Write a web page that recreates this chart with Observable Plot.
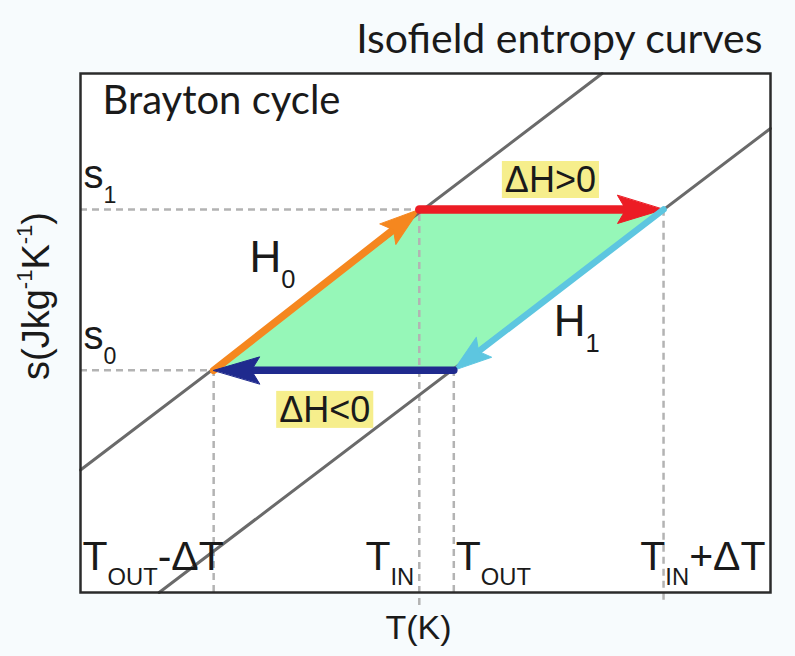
<!DOCTYPE html>
<html><head><meta charset="utf-8">
<script src="https://cdn.jsdelivr.net/npm/d3@7"></script>
<script src="https://cdn.jsdelivr.net/npm/@observablehq/plot@0.6"></script>
<style>
html,body{margin:0;padding:0;background:#f7fbfd;}
#chart{width:795px;height:656px;}
</style></head><body><div id="chart"></div>
<script>
// ---- data (arbitrary units) ----
// cycle corners in order: T_OUT-ΔT, T_IN, T_IN+ΔT, T_OUT
const cycleT = [19.3, 49.1, 84.5, 54.1];
const cycleS = [42.8, 73.8, 73.8, 42.8];
const stageColors = ["#f5871f", "#ec1c24", "#5dc6e0", "#1f2a8e"];
const stageWidths = [7.5, 8.5, 6.5, 7.5];
const headLengths = [40, 46, 38, 46];
const headWidths = [26, 28, 25, 27];
// isofield entropy curves (H0 upper, H1 lower)
const isoH0T = [0, 75.6], isoH0S = [23.6, 100];
const isoH1T = [11.4, 100], isoH1S = [0, 89.4];
// labels
const tickLabels = ["T_{OUT}-ΔT", "T_{IN}", "T_{OUT}", "T_{IN}+ΔT"];
const sLabels = ["s_{0}", "s_{1}"];
const sValues = [42.8, 73.8];
const fieldLabels = ["H_{0}", "H_{1}"];
const deltaLabels = ["ΔH>0", "ΔH<0"];
const dashBottom = [0, -2.5, -1.5, 0];

const W = 795, H = 656, mL = 80, mR = 25, mT = 73, mB = 64;
const xDom = [0, 100], yDom = [0, 100];
const kx = (W - mL - mR) / (xDom[1] - xDom[0]);
const ky = (H - mT - mB) / (yDom[1] - yDom[0]);

const arrows = cycleT.map((t, i) => {
  const j = (i + 1) % 4;
  const a = {x1: t, y1: cycleS[i], x2: cycleT[j], y2: cycleS[j],
    color: stageColors[i], w: stageWidths[i], head: headLengths[i], hw: headWidths[i]};
  const sx = (a.x2 - a.x1) * kx, sy = -(a.y2 - a.y1) * ky;
  a.angle = Math.atan2(sx, -sy) * 180 / Math.PI;
  a.mx = (a.x1 + a.x2) / 2; a.my = (a.y1 + a.y2) / 2;
  return a;
});

const area = [
  {s: cycleS[0], a: cycleT[0], b: cycleT[3]},
  {s: cycleS[1], a: cycleT[1], b: cycleT[2]}
];
const vDash = cycleT.map((t, i) => ({t, top: cycleS[i], bottom: dashBottom[i]}));
const hDash = [{s: cycleS[1], t: cycleT[1]}, {s: cycleS[0], t: cycleT[0]}];
const isoLines = [
  isoH0T.map((t, i) => ({t, s: isoH0S[i], k: "H0"})),
  isoH1T.map((t, i) => ({t, s: isoH1S[i], k: "H1"}))
].flat();

const ticks = [
  {label: tickLabels[0], t: xDom[0], anchor: "start", dx: 2},
  {label: tickLabels[1], t: cycleT[1], anchor: "end", dx: -5},
  {label: tickLabels[2], t: cycleT[3], anchor: "start", dx: 2},
  {label: tickLabels[3], t: xDom[1], anchor: "end", dx: -5}
];

const sans = "Liberation Sans, Arial, sans-serif";
const human = "Lato, sans-serif";

function headShape(hw) {
  return {draw(ctx, l) {
    ctx.moveTo(0, -l);
    ctx.lineTo(hw / 2, 0);
    ctx.lineTo(0, -l * 0.18);
    ctx.lineTo(-hw / 2, 0);
    ctx.closePath();
  }};
}

const marks = [
  Plot.frame({fill: "white", stroke: "none"}),
  Plot.areaX(area, {y: "s", x1: "a", x2: "b", fill: "#96f7b8", fillOpacity: 1}),
  Plot.ruleY(hDash, {y: "s", x1: xDom[0], x2: "t", stroke: "#b3b3b3", strokeWidth: 2.5, strokeDasharray: "7,5"}),
  Plot.ruleX(vDash, {x: "t", y1: "bottom", y2: "top", stroke: "#b3b3b3", strokeWidth: 2.5, strokeDasharray: "7,5"}),
  Plot.line(isoLines, {x: "t", y: "s", z: "k", stroke: "#6a6a6a", strokeWidth: 3}),
  ...arrows.flatMap(a => [
    Plot.arrow([a], {x1: "x1", y1: "y1", x2: "x2", y2: "y2", stroke: a.color, strokeWidth: a.w,
      headLength: 0, insetEnd: a.head * 0.6}),
    Plot.vector([a], {x: "x2", y: "y2", length: a.head, rotate: a.angle, anchor: "end",
      shape: headShape(a.hw), fill: a.color, stroke: a.color, strokeWidth: 1})
  ]),
  // highlighted ΔH labels
  Plot.text([deltaLabels[0]], {x: arrows[1].mx, y: arrows[1].my, dx: 9, dy: -29, text: d => d,
    fontFamily: sans, fontSize: 36, fill: "#1a1a1a"}),
  Plot.text([deltaLabels[1]], {x: arrows[3].mx, y: arrows[3].my, dx: -9, dy: 40, text: d => d,
    fontFamily: sans, fontSize: 36, fill: "#1a1a1a"}),
  // field labels
  Plot.text([fieldLabels[0]], {x: arrows[0].mx, y: arrows[0].my, dx: -44, dy: -32, text: d => d,
    fontFamily: sans, fontSize: 44, fill: "#1a1a1a"}),
  Plot.text([fieldLabels[1]], {x: arrows[2].mx, y: arrows[2].my, dx: 18, dy: 32, text: d => d,
    fontFamily: sans, fontSize: 44, fill: "#1a1a1a"}),
  // entropy labels
  Plot.text(sLabels, {x: xDom[0], y: (d, i) => sValues[i], text: d => d, textAnchor: "start",
    dx: 3, dy: -34, fontFamily: sans, fontSize: 40, fill: "#1a1a1a"}),
  // temperature tick labels
  ...ticks.map(tk => Plot.text([tk], {x: "t", y: 6.8, text: "label", textAnchor: tk.anchor, dx: tk.dx,
    fontFamily: sans, fontSize: 41, fill: "#1a1a1a"})),
  // titles
  Plot.text(["Brayton cycle"], {frameAnchor: "top-left", textAnchor: "start", lineAnchor: "middle",
    dx: 22, dy: 28, fontFamily: human, fontSize: 40, fill: "#1a1a1a"}),
  Plot.text(["Isofield entropy curves"], {frameAnchor: "top-right", textAnchor: "end", lineAnchor: "middle",
    dx: -8, dy: -34, fontFamily: human, fontSize: 41, fill: "#1a1a1a"}),
  // axis labels
  Plot.text(["T(K)"], {frameAnchor: "bottom", lineAnchor: "middle", dy: 36, dx: -7,
    fontFamily: sans, fontSize: 34, fill: "#1a1a1a"}),
  Plot.text(["s(Jkg^{-1}K^{-1})"], {frameAnchor: "left", textAnchor: "middle", lineAnchor: "middle",
    rotate: -90, dx: -44, dy: -37, fontFamily: sans, fontSize: 38, fill: "#1a1a1a"}),
  Plot.frame({stroke: "#2b2b2b", strokeWidth: 2.5})
];

const chart = Plot.plot({
  width: W, height: H,
  marginLeft: mL, marginRight: mR, marginTop: mT, marginBottom: mB,
  x: {domain: xDom, axis: null},
  y: {domain: yDom, axis: null},
  style: {background: "transparent", overflow: "visible"},
  marks
});
document.getElementById("chart").appendChild(chart);

// sub/superscript markup -> tspans
const NS = "http://www.w3.org/2000/svg";
chart.querySelectorAll("text").forEach(t => {
  const s = t.textContent;
  if (!/[_^]\{/.test(s)) return;
  const fs = parseFloat(getComputedStyle(t).fontSize);
  t.textContent = "";
  const re = /([_^])\{([^}]*)\}|([^_^]+)/g;
  let m, shift = 0;
  while ((m = re.exec(s))) {
    const ts = document.createElementNS(NS, "tspan");
    let target = 0;
    if (m[1]) {
      target = m[1] === "_" ? 0.36 * fs : -0.45 * fs;
      ts.setAttribute("font-size", (0.58 * fs) + "px");
      ts.textContent = m[2];
    } else ts.textContent = m[3];
    ts.setAttribute("dy", (target - shift) + "px");
    shift = target;
    t.appendChild(ts);
  }
});

// yellow highlight behind ΔH labels
chart.querySelectorAll("text").forEach(t => {
  if (!deltaLabels.includes(t.textContent)) return;
  const bb = t.getBBox();
  const r = document.createElementNS(NS, "rect");
  const px = 3, py = 1;
  r.setAttribute("x", bb.x - px); r.setAttribute("y", bb.y + 3 - py);
  r.setAttribute("width", bb.width + 2 * px); r.setAttribute("height", bb.height - 6 + 2 * py);
  r.setAttribute("fill", "#f6ee8c");
  r.setAttribute("stroke", "none");
  const tr = t.getAttribute("transform"); if (tr) r.setAttribute("transform", tr);
  t.parentNode.insertBefore(r, t);
});
</script></body></html>
